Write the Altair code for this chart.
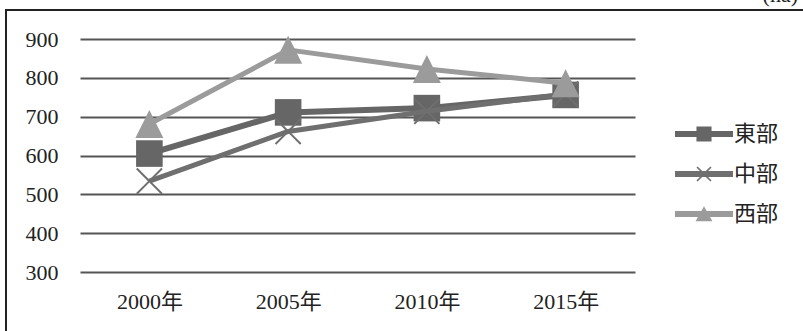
import altair as alt
import pandas as pd

# ---- data -------------------------------------------------------------
years = ["2000年", "2005年", "2010年", "2015年"]
series = ["東部", "中部", "西部"]
east = [605, 711, 722, 756]
central = [534, 662, 714, 758]
west = [681, 872, 823, 786]
y_ticks = [300, 400, 500, 600, 700, 800, 900]
unit_label = "(ha)"

# ---- styles -----------------------------------------------------------
colors = ["#666666", "#6f6f6f", "#9b9b9b"]
line_widths = [6, 5, 5]
FONT = "'Liberation Serif', 'DejaVu Serif', 'Noto Sans CJK JP', serif"
FS = 22

# marker outlines in unit coordinates (scaled by sqrt(size)/2)
marker_paths = [
    "M-0.95,-0.95H0.95V0.95H-0.95Z",
    "M-0.95,-0.85L-0.85,-0.95L0,-0.1L0.85,-0.95L0.95,-0.85L0.1,0"
    "L0.95,0.85L0.85,0.95L0,0.1L-0.85,0.95L-0.95,0.85L-0.1,0Z",
    "M0,-1L1,1H-1Z",
]
# legend symbols: a short line segment with the marker on it
legend_paths = [
    "M-1,-0.1H1V0.1H-1Z M-0.26,-0.26H0.26V0.26H-0.26Z",
    "M-1,-0.1H1V0.1H-1Z M-0.26,-0.22L-0.22,-0.26L0,-0.04L0.22,-0.26"
    "L0.26,-0.22L0.04,0L0.26,0.22L0.22,0.26L0,0.04L-0.22,0.26L-0.26,0.22L-0.04,0Z",
    "M-1,-0.1H1V0.1H-1Z M0,-0.27L0.29,0.25H-0.29Z",
]

rows = []
for name, vals in zip(series, [east, central, west]):
    for yr, v in zip(years, vals):
        rows.append({"年": yr, "地域": name, "面積": v})
df = pd.DataFrame(rows)

W, H = 555, 233
PAD = {"left": 80, "top": 39, "right": 803 - 80 - W, "bottom": 331 - 39 - H}

x_enc = alt.X(
    "年:N",
    sort=years,
    scale=alt.Scale(type="point", domain=years, padding=0.5),
    axis=alt.Axis(title=None, domain=False, ticks=False, grid=False,
                  labelAngle=0, labelPadding=19, labelFontSize=FS,
                  labelFont=FONT, labelColor="#222222"),
)
y_enc = alt.Y(
    "面積:Q",
    scale=alt.Scale(domain=[300, 900], nice=False, zero=False),
    axis=alt.Axis(title=None, values=y_ticks, domain=False, ticks=False,
                  tickSize=0, grid=True, gridColor="#555555", gridWidth=2,
                  labelPadding=22, labelFontSize=FS, labelFont=FONT,
                  labelColor="#222222"),
)

base = alt.Chart(df)
layers = []
for name, col, lw, path in zip(series, colors, line_widths, marker_paths):
    sub = base.transform_filter(alt.datum["地域"] == name)
    layers.append(
        sub.mark_line(color=col, strokeWidth=lw, strokeJoin="round")
        .encode(x=x_enc, y=y_enc)
    )
    layers.append(
        sub.mark_point(shape=path, size=784, filled=True, color=col,
                       opacity=1, strokeWidth=0)
        .encode(x=x_enc, y=y_enc)
    )

legend_props = dict(
    title=None, orient="none", legendX=595, legendY=66, padding=0,
    symbolSize=3364, symbolStrokeWidth=0, symbolOpacity=1,
    labelFontSize=FS, labelFont=FONT, labelColor="#222222",
    labelOffset=1, rowPadding=0,
)
legend_layer = (
    base.transform_filter("false")
    .mark_point(filled=True, opacity=1)
    .encode(
        color=alt.Color("地域:N", scale=alt.Scale(domain=series, range=colors),
                        legend=alt.Legend(**legend_props)),
        shape=alt.Shape("地域:N", scale=alt.Scale(domain=series, range=legend_paths),
                        legend=alt.Legend(**legend_props)),
    )
)

# outer frame (left and top edges) and the unit note
one = alt.Chart(pd.DataFrame({"k": [0]}))
frame_left = one.mark_rule(color="#222222", strokeWidth=2).encode(
    x=alt.value(-74), y=alt.value(-29), y2=alt.value(331 - 39))
frame_top = one.mark_rule(color="#222222", strokeWidth=2).encode(
    x=alt.value(-75), x2=alt.value(803 - 80), y=alt.value(-29))
unit = one.mark_text(text=unit_label, align="right", baseline="bottom",
                     font=FONT, fontSize=FS, color="#222222").encode(
    x=alt.value(718), y=alt.value(-32))

chart = (
    alt.layer(*layers, legend_layer, frame_left, frame_top, unit)
    .properties(width=W, height=H, padding=PAD,
                autosize=alt.AutoSizeParams(type="none"),
                background="white")
    .configure_view(stroke=None)
)

chart.save("out.html", embed_options={"renderer": "svg", "actions": False})
